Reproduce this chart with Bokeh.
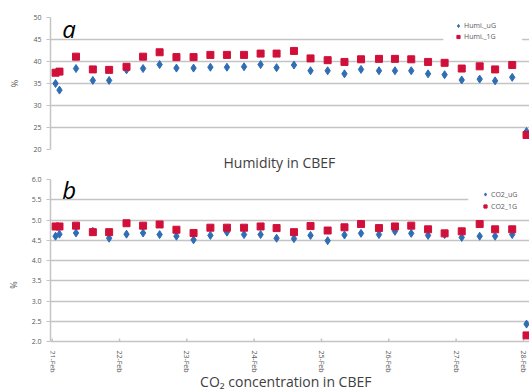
import math
import pandas as pd
from bokeh.plotting import figure
from bokeh.models import (Range1d, FixedTicker, Title, Legend, LegendItem,
                          BoxAnnotation, Label, NumeralTickFormatter)
from bokeh.layouts import column
from bokeh.embed import file_html
from bokeh.resources import INLINE

# ---------------- data ----------------
times = [
    "2013-02-21 01:12", "2013-02-21 02:36", "2013-02-21 08:30", "2013-02-21 14:30", "2013-02-21 20:18",
    "2013-02-22 02:30", "2013-02-22 08:24", "2013-02-22 14:18", "2013-02-22 20:18",
    "2013-02-23 02:24", "2013-02-23 08:24", "2013-02-23 14:18", "2013-02-23 20:24",
    "2013-02-24 02:18", "2013-02-24 08:00", "2013-02-24 14:12", "2013-02-24 20:06",
    "2013-02-25 02:12", "2013-02-25 08:12", "2013-02-25 14:06", "2013-02-25 20:30",
    "2013-02-26 02:12", "2013-02-26 08:00", "2013-02-26 14:00", "2013-02-26 19:54",
    "2013-02-27 02:00", "2013-02-27 08:24", "2013-02-27 13:54", "2013-02-27 20:00",
    "2013-02-28 01:06",
]
humi_uG = [35.0, 33.5, 38.4, 35.7, 35.7, 38.1, 38.4, 39.3, 38.5, 38.5, 38.7, 38.7, 38.8, 39.3,
           38.6, 39.2, 37.9, 37.9, 37.2, 38.2, 37.9, 37.9, 37.9, 37.2, 37.0, 35.8, 36.0, 35.6, 36.4, 24.1]
humi_1G = [37.45, 37.7, 41.1, 38.2, 38.1, 38.8, 41.1, 42.1, 41.0, 41.0, 41.5, 41.5, 41.5, 41.8,
           41.8, 42.4, 40.7, 40.3, 39.9, 40.5, 40.6, 40.6, 40.5, 39.9, 39.7, 38.4, 38.9, 38.2, 39.2, 23.3]
co2_uG = [4.60, 4.65, 4.68, 4.72, 4.55, 4.65, 4.68, 4.64, 4.60, 4.51, 4.62, 4.70, 4.64, 4.64,
          4.55, 4.54, 4.62, 4.49, 4.63, 4.67, 4.64, 4.72, 4.67, 4.62, 4.64, 4.57, 4.60, 4.60, 4.64, 2.43]
co2_1G = [4.84, 4.84, 4.86, 4.70, 4.70, 4.92, 4.86, 4.89, 4.76, 4.68, 4.81, 4.81, 4.81, 4.84,
          4.80, 4.70, 4.85, 4.74, 4.82, 4.90, 4.80, 4.84, 4.86, 4.77, 4.67, 4.72, 4.90, 4.77, 4.77, 2.15]
tick_dates = ["2013-02-21", "2013-02-22", "2013-02-23", "2013-02-24",
              "2013-02-25", "2013-02-26", "2013-02-27", "2013-02-28"]
tick_labels = ["21-Feb", "22-Feb", "23-Feb", "24-Feb", "25-Feb", "26-Feb", "27-Feb", "28-Feb"]
humi_ticks = [20, 25, 30, 35, 40, 45, 50]
co2_ticks = [2.0, 2.5, 3.0, 3.5, 4.0, 4.5, 5.0, 5.5, 6.0]

# ---------------- styles ----------------
BLUE = "#2F6DB5"
RED = "#D0103A"
GRID = "#C4C4C4"
TXT = "#595959"
FONT = "Open Sans"

t = pd.to_datetime(times)
td = pd.to_datetime(tick_dates)
day0 = td[0]
x_start = day0 - pd.Timedelta(minutes=36)
x_end = day0 + pd.Timedelta(days=7.09)


def style(p, yticks, fmt, bounds):
    p.outline_line_color = None
    p.background_fill_color = "white"
    p.border_fill_color = "white"
    p.xgrid.visible = False
    p.ygrid.ticker = FixedTicker(ticks=yticks)
    p.ygrid.grid_line_color = GRID
    p.ygrid.grid_line_width = 1.5
    ya = p.yaxis[0]
    ya.ticker = FixedTicker(ticks=yticks)
    ya.formatter = NumeralTickFormatter(format=fmt)
    ya.bounds = bounds
    ya.axis_line_color = GRID
    ya.axis_line_width = 1.5
    ya.major_tick_line_color = GRID
    ya.major_tick_out = 4
    ya.major_tick_in = 0
    ya.minor_tick_line_color = None
    ya.major_label_text_font = FONT
    ya.major_label_text_font_size = "7px"
    ya.major_label_text_color = TXT
    ya.major_label_standoff = 5
    ya.axis_label = "%"
    ya.axis_label_text_font = FONT
    ya.axis_label_text_font_size = "9px"
    ya.axis_label_text_font_style = "normal"
    ya.axis_label_text_color = TXT
    ya.axis_label_standoff = 9


def add_legend(p, r1, r2, l1, l2, loc, lh):
    leg = Legend(items=[LegendItem(label=l1, renderers=[r1]),
                        LegendItem(label=l2, renderers=[r2])],
                 location=loc, orientation="vertical")
    leg.label_text_font = FONT
    leg.label_text_font_size = "7px"
    leg.label_text_color = TXT
    leg.glyph_width = 8
    leg.glyph_height = lh
    leg.label_height = lh
    leg.label_standoff = 2
    leg.spacing = 0
    leg.padding = 2
    leg.margin = 0
    leg.border_line_color = None
    leg.background_fill_alpha = 0
    p.add_layout(leg)


# ---------------- top panel ----------------
p1 = figure(width=529, height=172, x_axis_type="datetime",
            x_range=Range1d(x_start, x_end), y_range=Range1d(20, 50),
            min_border_left=50, min_border_right=0, min_border_top=17, min_border_bottom=22,
            output_backend="svg", toolbar_location=None)
style(p1, humi_ticks, "0", (20, 50))
p1.xaxis.visible = False
p1.add_layout(BoxAnnotation(left=day0 + pd.Timedelta(days=5.81), right=day0 + pd.Timedelta(days=6.98),
                            bottom=44.4, top=45.6, fill_color="white", fill_alpha=1,
                            line_color=None, level="underlay"))
rb1 = p1.scatter(t, humi_uG, marker="diamond", size=8, color=BLUE)
rr1 = p1.scatter(t, humi_1G, marker="square", size=7, color=RED)
add_legend(p1, rb1, rr1, "Humi._uG", "Humi._1G", (404, 107), 11)
p1.add_layout(Label(x=day0 + pd.Timedelta(days=0.15), y=47.5, text="a",
                    text_font=FONT, text_font_size="24px", text_font_style="italic",
                    text_color="#000000", text_baseline="alphabetic"))
p1.add_layout(Title(text="Humidity in CBEF", align="left", offset=173, standoff=2,
                    text_font=FONT, text_font_size="14px", text_font_style="normal",
                    text_color="#404040"), "below")

# ---------------- bottom panel ----------------
# frame runs to the bottom of the page; 2.0 is the axis baseline
PX_PER_UNIT = 162 / 4.0
y_bottom = 6.0 - 211 / PX_PER_UNIT
p2 = figure(width=529, height=218, x_axis_type="datetime",
            x_range=p1.x_range, y_range=Range1d(y_bottom, 6.0),
            min_border_left=50, min_border_right=0, min_border_top=7, min_border_bottom=0,
            output_backend="svg", toolbar_location=None)
style(p2, co2_ticks, "0.0", (2.0, 6.0))
p2.xaxis.visible = False
# day ticks and rotated day labels under the 2.0 baseline
p2.segment(x0=td, y0=[2.0] * len(td), x1=td, y1=[2.0 + 3 / PX_PER_UNIT] * len(td),
           line_color=GRID, line_width=1.5)
p2.text(x=td, y=[2.0 - 9 / PX_PER_UNIT] * len(td), text=tick_labels, angle=-math.pi / 2,
        text_align="left", text_baseline="middle", text_font_size="7px",
        text_color=TXT, text_font={"value": FONT})
p2.add_layout(BoxAnnotation(left=day0 + pd.Timedelta(days=6.18), right=day0 + pd.Timedelta(days=7.2),
                            bottom=5.45, top=5.55, fill_color="white", fill_alpha=1,
                            line_color=None, level="underlay"))
rb2 = p2.scatter(t, co2_uG, marker="diamond", size=8, color=BLUE)
rr2 = p2.scatter(t, co2_1G, marker="square", size=7, color=RED)
add_legend(p2, rb2, rr2, "CO2_uG", "CO2_1G", (431, 178), 12)
p2.add_layout(Label(x=day0 + pd.Timedelta(days=0.15), y=5.75, text="b",
                    text_font=FONT, text_font_size="24px", text_font_style="italic",
                    text_color="#000000", text_baseline="alphabetic"))
p2.add_layout(Label(x=day0 + pd.Timedelta(days=3.47), y=2.0 - 40 / PX_PER_UNIT,
                    text="CO\u2082 concentration in CBEF",
                    text_font=FONT, text_font_size="14px", text_font_style="normal",
                    text_color="#404040", text_align="center", text_baseline="middle"))

layout = column(p1, p2, spacing=0)
open("out.html", "w").write(file_html(layout, INLINE))
